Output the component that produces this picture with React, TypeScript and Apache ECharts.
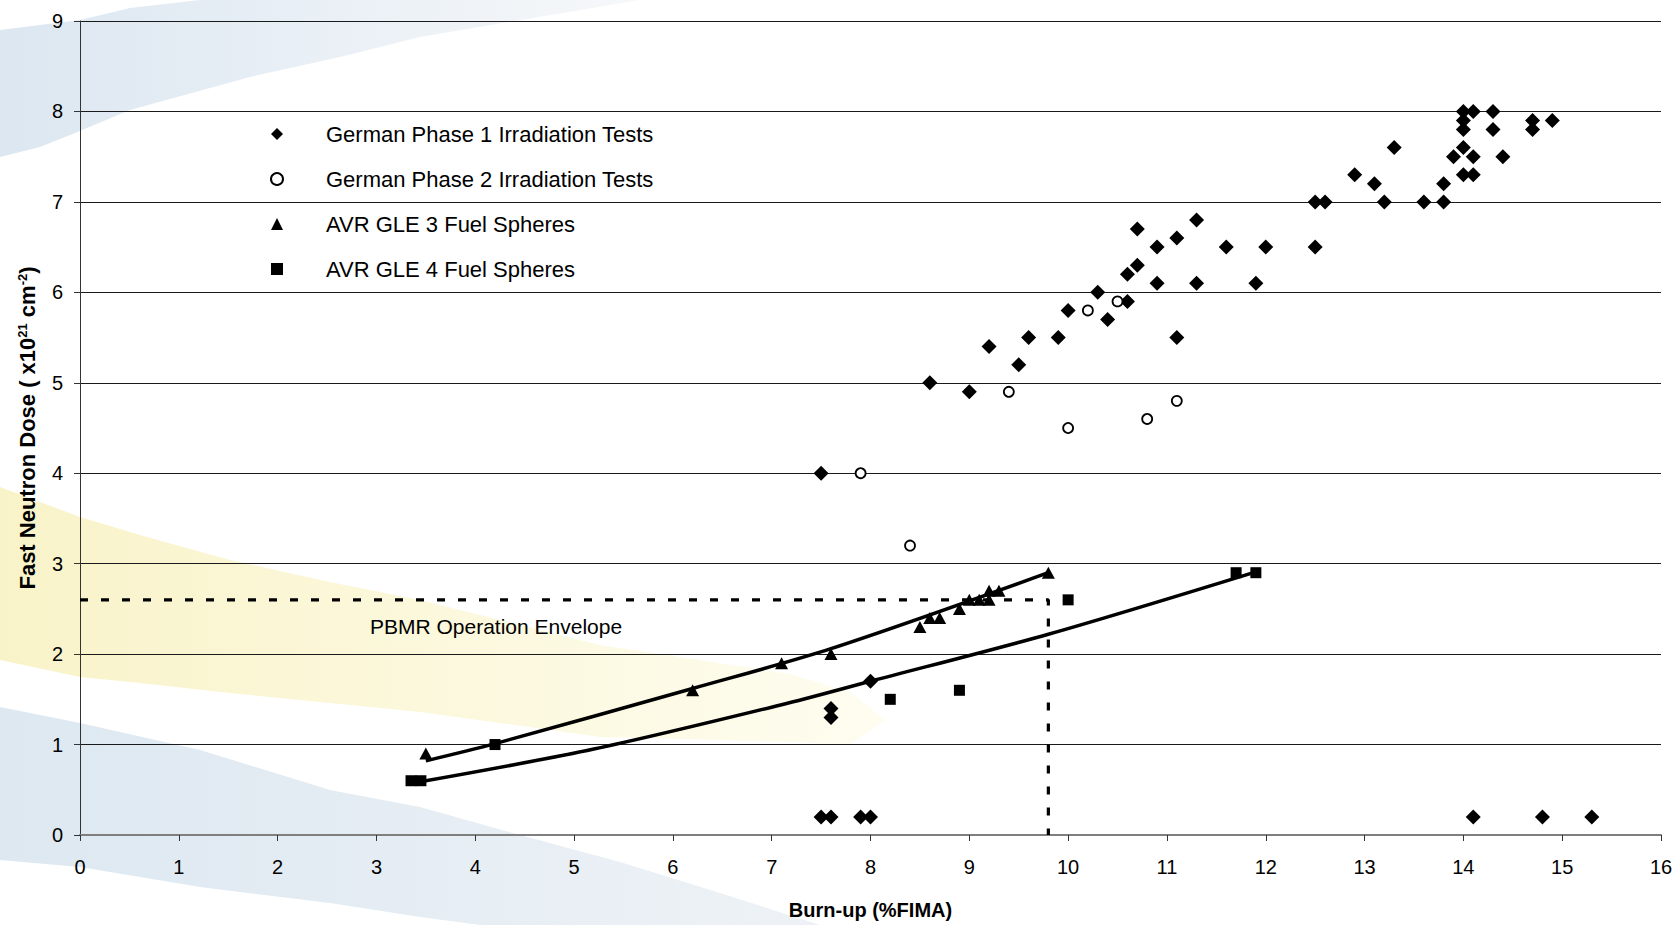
import React, { useEffect, useRef } from "react";
import * as echarts from "echarts";

// ---------- data ----------
const seriesNames = [
  "German Phase 1 Irradiation Tests",
  "German Phase 2 Irradiation Tests",
  "AVR GLE 3 Fuel Spheres",
  "AVR GLE 4 Fuel Spheres",
];

// Burn-up (%FIMA), Fast neutron dose (x10^21 cm^-2)
const germanPhase1: [number, number][] = [
  [7.5, 4.0], [8.6, 5.0], [9.0, 4.9], [9.2, 5.4], [9.5, 5.2], [9.6, 5.5],
  [9.9, 5.5], [10.0, 5.8], [10.3, 6.0], [10.4, 5.7], [10.6, 5.9], [10.6, 6.2],
  [10.7, 6.3], [10.7, 6.7], [10.9, 6.5], [10.9, 6.1], [11.1, 6.6], [11.1, 5.5],
  [11.3, 6.8], [11.3, 6.1], [11.6, 6.5], [11.9, 6.1], [12.0, 6.5], [12.5, 7.0],
  [12.6, 7.0], [12.5, 6.5], [12.9, 7.3], [13.1, 7.2], [13.2, 7.0], [13.3, 7.6],
  [13.6, 7.0], [13.8, 7.0], [13.8, 7.2], [13.9, 7.5], [14.0, 8.0], [14.0, 7.9],
  [14.0, 7.8], [14.0, 7.6], [14.0, 7.3], [14.1, 8.0], [14.1, 7.5], [14.1, 7.3],
  [14.3, 8.0], [14.3, 7.8], [14.4, 7.5], [14.7, 7.9], [14.7, 7.8], [14.9, 7.9],
  [7.6, 1.4], [7.6, 1.3], [8.0, 1.7],
  [7.5, 0.2], [7.6, 0.2], [7.9, 0.2], [8.0, 0.2], [14.1, 0.2], [14.8, 0.2], [15.3, 0.2],
];

const germanPhase2: [number, number][] = [
  [7.9, 4.0], [8.4, 3.2], [9.4, 4.9], [10.0, 4.5], [10.2, 5.8], [10.5, 5.9],
  [10.8, 4.6], [11.1, 4.8],
];

const avrGle3: [number, number][] = [
  [3.5, 0.9], [6.2, 1.6], [7.1, 1.9], [7.6, 2.0], [8.5, 2.3], [8.6, 2.4],
  [8.7, 2.4], [8.9, 2.5], [9.0, 2.6], [9.1, 2.6], [9.2, 2.6], [9.2, 2.7],
  [9.3, 2.7], [9.8, 2.9],
];

const avrGle4: [number, number][] = [
  [3.35, 0.6], [3.45, 0.6], [4.2, 1.0], [8.2, 1.5], [8.9, 1.6], [10.0, 2.6],
  [11.7, 2.9], [11.9, 2.9],
];

// trend curves
const gle3Trend: [number, number][] = [
  [3.5, 0.82], [4.2, 1.01], [6.2, 1.62], [7.6, 2.06], [9.8, 2.9],
];
const gle4Trend: [number, number][] = [
  [3.4, 0.58], [5.2, 0.95], [7.1, 1.44], [8.0, 1.7], [9.8, 2.22], [11.9, 2.91],
];

// PBMR operation envelope corner
const envelopeBurnup = 9.8;
const envelopeDose = 2.6;
const envelopeLine: [number, number][] = [
  [0, envelopeDose], [envelopeBurnup, envelopeDose], [envelopeBurnup, 0],
];

const xMin = 0, xMax = 16, xStep = 1;
const yMin = 0, yMax = 9, yStep = 1;

const envelopeLabel = "PBMR Operation Envelope";
const xTitle = "Burn-up (%FIMA)";

// ---------- decorative background bands (pixel layout) ----------
const FONT = "'Liberation Sans', Arial, Helvetica, sans-serif";

const bgTopBlue = [
  [0, 30], [80, 20], [130, 8], [200, 0], [640, 0], [420, 37], [340, 57],
  [250, 77], [130, 110], [75, 133], [40, 147], [0, 157],
];
const bgYellow = [
  [0, 487], [80, 517], [140, 535], [230, 560], [330, 582], [420, 600],
  [520, 625], [600, 645], [700, 660], [790, 674], [850, 692], [885, 720],
  [850, 745], [790, 742], [600, 737], [500, 723], [420, 712], [330, 703],
  [230, 693], [140, 683], [80, 677], [0, 660],
];
const bgBottomBlue = [
  [0, 707], [80, 723], [200, 750], [330, 790], [420, 807], [520, 835],
  [620, 862], [720, 893], [820, 925], [480, 925], [420, 917], [330, 903],
  [200, 887], [80, 867], [0, 860],
];

function hGrad(c0: string, c1: string) {
  return {
    type: "linear",
    x: 0, y: 0, x2: 1, y2: 0,
    colorStops: [
      { offset: 0, color: c0 },
      { offset: 1, color: c1 },
    ],
  };
}

export default function App() {
  const ref = useRef<HTMLDivElement>(null);

  useEffect(() => {
    if (!ref.current) return;
    const chart = echarts.init(ref.current, undefined, { renderer: "svg" });

    const option: any = {
      animation: false,
      backgroundColor: "#ffffff",
      textStyle: { fontFamily: FONT },
      grid: { left: 80, right: 19, top: 21, bottom: 88, containLabel: false },
      graphic: {
        elements: [
          {
            type: "polygon", z: -10, silent: true,
            shape: { points: bgTopBlue },
            style: { fill: hGrad("rgb(220,231,241)", "rgb(246,248,250)") },
          },
          {
            type: "polygon", z: -10, silent: true,
            shape: { points: bgYellow },
            style: { fill: hGrad("rgb(249,243,201)", "rgb(254,253,240)") },
          },
          {
            type: "polygon", z: -10, silent: true,
            shape: { points: bgBottomBlue },
            style: { fill: hGrad("rgb(221,232,241)", "rgb(238,242,246)") },
          },
          {
            type: "text", z: 10, silent: true,
            x: 370, y: 626,
            style: {
              text: envelopeLabel,
              fontSize: 21,
              fontFamily: FONT,
              fill: "#000",
              textAlign: "left",
              textVerticalAlign: "middle",
            },
          },
        ],
      },
      legend: {
        data: seriesNames,
        orient: "vertical",
        left: 265,
        top: 118,
        itemWidth: 12,
        itemHeight: 12,
        itemGap: 23,
        selectedMode: false,
        textStyle: {
          fontSize: 22,
          lineHeight: 22,
          color: "#000",
          fontFamily: FONT,
          padding: [0, 0, 0, 38],
        },
      },
      xAxis: {
        type: "value",
        min: xMin,
        max: xMax,
        interval: xStep,
        name: xTitle,
        nameLocation: "middle",
        nameGap: 65,
        nameTextStyle: { fontSize: 20, fontWeight: "bold", color: "#000", fontFamily: FONT },
        axisLine: { show: true, lineStyle: { color: "#7f7f7f", width: 2 } },
        axisTick: { show: true, length: 6, lineStyle: { color: "#333" } },
        axisLabel: { fontSize: 20, color: "#000", margin: 22, fontFamily: FONT },
        splitLine: { show: false },
      },
      yAxis: {
        type: "value",
        min: yMin,
        max: yMax,
        interval: yStep,
        name: "{t|Fast Neutron Dose ( x10}{s|21}{t| cm}{s|-2}{t|)}",
        nameLocation: "middle",
        nameGap: 42,
        nameTextStyle: {
          fontSize: 22,
          fontWeight: "bold",
          color: "#000",
          fontFamily: FONT,
          rich: {
            t: { fontSize: 22, fontWeight: "bold", color: "#000", fontFamily: FONT },
            s: { fontSize: 13, fontWeight: "bold", color: "#000", fontFamily: FONT, verticalAlign: "top" },
          },
        },
        axisLine: { show: true, lineStyle: { color: "#333", width: 1 } },
        axisTick: { show: true, length: 6, lineStyle: { color: "#333" } },
        axisLabel: { fontSize: 20, color: "#000", margin: 17, fontFamily: FONT },
        splitLine: { show: true, lineStyle: { color: "#1a1a1a", width: 1 } },
      },
      series: [
        {
          name: "PBMR envelope",
          type: "line",
          data: envelopeLine,
          showSymbol: false,
          symbol: "none",
          lineStyle: { color: "#000", width: 3.2, type: [8, 13], cap: "butt" },
          z: 3,
        },
        {
          name: "GLE 3 trend",
          type: "line",
          data: gle3Trend,
          showSymbol: false,
          symbol: "none",
          smooth: 0.3,
          lineStyle: { color: "#000", width: 3.5 },
          z: 3,
        },
        {
          name: "GLE 4 trend",
          type: "line",
          data: gle4Trend,
          showSymbol: false,
          symbol: "none",
          smooth: 0.3,
          lineStyle: { color: "#000", width: 3.5 },
          z: 3,
        },
        {
          name: seriesNames[0],
          type: "scatter",
          data: germanPhase1,
          symbol: "diamond",
          symbolSize: 15,
          itemStyle: { color: "#000", opacity: 1 },
          z: 5,
        },
        {
          name: seriesNames[1],
          type: "scatter",
          data: germanPhase2,
          symbol: "circle",
          symbolSize: 10,
          itemStyle: { color: "#fff", borderColor: "#000", borderWidth: 1.8, opacity: 1 },
          z: 5,
        },
        {
          name: seriesNames[2],
          type: "scatter",
          data: avrGle3,
          symbol: "triangle",
          symbolSize: [13, 12],
          itemStyle: { color: "#000", opacity: 1 },
          z: 5,
        },
        {
          name: seriesNames[3],
          type: "scatter",
          data: avrGle4,
          symbol: "rect",
          symbolSize: 11,
          itemStyle: { color: "#000", opacity: 1 },
          z: 5,
        },
      ],
    };

    chart.setOption(option);
    return () => {
      chart.dispose();
    };
  }, []);

  return (
    <div
      ref={ref}
      style={{ position: "fixed", left: 0, top: 0, width: 1680, height: 925, background: "#fff" }}
    />
  );
}
